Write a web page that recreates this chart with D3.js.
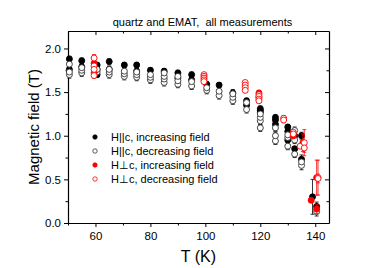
<!DOCTYPE html>
<html>
<head>
<meta charset="utf-8">
<script src="https://cdn.jsdelivr.net/npm/d3@7"></script>
<style>
  body { margin: 0; background: #fff; }
  text { font-family: "Liberation Sans", Arial, sans-serif; fill: #000; }
</style>
</head>
<body>
<div id="chart"></div>
<script>
/* quartz and EMAT: critical field vs temperature */

// H||c, increasing field (filled black)
const parIncT = [50.5,50.5,55,55,60.6,60.6,60.6,65,65,70.5,75,75,80,85,90,90,95,95,100.5,105,110,115,115,120,120,120,125.5,125.5,125.5,130,130,130,132.5,132.5,135,135,139,140.5];
const parIncB = [1.88,1.76,1.86,1.79,1.81,1.76,1.70,1.85,1.76,1.81,1.81,1.74,1.75,1.74,1.72,1.66,1.70,1.64,1.59,1.58,1.49,1.40,1.35,1.31,1.29,1.27,1.21,1.18,1.13,1.10,1.05,0.95,1.00,0.85,1.00,0.73,0.30,0.19];
const parIncE = [0.03,0.03,0.03,0.03,0.03,0.03,0.03,0.03,0.03,0.03,0.03,0.03,0.03,0.03,0.03,0.03,0.03,0.03,0.03,0.03,0.04,0.03,0.03,0.03,0.03,0.03,0.03,0.03,0.03,0.03,0.03,0.03,0.03,0.03,0.04,0.05,0.20,0.05];

// H||c, decreasing field (open black)
const parDecT = [50.5,50.5,50.5,55,55,55,60.6,60.6,65,65,65,70.5,70.5,70.5,75,75,75,80,80,80,85,85,85,85,90,90,90,95,95,100.5,100.5,105,105,110,110,110,115,115,120,120,120,120,125.5,125.5,125.5,130,130,130,132.5,132.5,132.5,135,135,140.5];
const parDecB = [1.70,1.73,1.82,1.72,1.75,1.78,1.73,1.76,1.70,1.73,1.76,1.68,1.71,1.74,1.67,1.70,1.73,1.64,1.67,1.70,1.61,1.65,1.68,1.72,1.59,1.63,1.68,1.57,1.62,1.52,1.55,1.46,1.51,1.40,1.44,1.48,1.30,1.38,1.09,1.17,1.21,1.25,0.94,1.00,1.09,0.88,0.98,1.01,0.79,0.95,1.06,0.66,0.70,0.13];
const parDecE = [0.04,0.04,0.04,0.04,0.04,0.04,0.04,0.04,0.04,0.04,0.04,0.04,0.04,0.04,0.04,0.04,0.04,0.04,0.04,0.04,0.04,0.04,0.04,0.04,0.04,0.04,0.04,0.04,0.04,0.04,0.04,0.04,0.04,0.04,0.04,0.04,0.04,0.04,0.04,0.04,0.04,0.04,0.04,0.04,0.04,0.04,0.04,0.04,0.04,0.04,0.04,0.05,0.05,0.05];

// H perp c, increasing field (filled red)
const perIncT = [59.5,59.5,119.5,119.5,132,135.5,138.5,140.5,140.5];
const perIncB = [1.83,1.72,1.49,1.44,1.00,0.92,0.26,0.52,0.16];
const perIncE = [0.03,0.03,0.03,0.03,0.03,0.10,0.02,0.20,0.05];

// H perp c, decreasing field (open red)
const perDecT = [59.5,59.5,59.5,59.5,99.5,99.5,99.5,99.5,99.5,114.5,114.5,114.5,114.5,119.5,119.5,119.5,119.5,128.5,128.5,132,132,134.5,136,136,141,141];
const perDecB = [1.89,1.80,1.76,1.69,1.70,1.68,1.66,1.64,1.62,1.61,1.58,1.55,1.52,1.47,1.45,1.42,1.40,1.20,1.18,1.04,1.02,0.88,0.92,0.86,0.52,0.51];
const perDecE = [0.04,0.03,0.03,0.03,0.02,0.02,0.02,0.02,0.02,0.02,0.02,0.02,0.02,0.02,0.02,0.02,0.02,0.03,0.03,0.02,0.02,0.02,0.15,0.05,0.20,0.05];

const xTicks = [60, 80, 100, 120, 140];
const yTicks = [0.0, 0.5, 1.0, 1.5, 2.0];
const legendLabels = ["H||c, increasing field", "H||c, decreasing field", "H\u22A5c, increasing field", "H\u22A5c, decreasing field"];

const height = 268,
    width = 382,
    margin = ({ top: 31, right: 53, bottom: 45, left: 68 });

const svg = d3.select("#chart")
    .append("svg")
    .attr("width", width)
    .attr("height", height);

let x = d3.scaleLinear()
    .domain([50, 145])
    .range([margin.left, width - margin.right]);

let y = d3.scaleLinear()
    .domain([0, 2.2])
    .range([height - margin.bottom, margin.top]);

/* series table built from the arrays */
const series = [
  { T: parIncT, B: parIncB, E: parIncE, fill: "#000", stroke: "#000", err: "#000" },
  { T: parDecT, B: parDecB, E: parDecE, fill: "#fff", stroke: "#333", err: "#000" },
  { T: perIncT, B: perIncB, E: perIncE, fill: "#f00", stroke: "#f00", err: "#f00" },
  { T: perDecT, B: perDecB, E: perDecE, fill: "#fff", stroke: "#f00", err: "#f00" }
];

/* axes: bottom/left outward, top/right mirrored inward */
const minorX = d3.range(50, 146, 10).filter(d => d % 20 !== 0);
const minorY = d3.range(0, 2.21, 0.25).filter(d => Math.abs(d * 2 - Math.round(d * 2)) > 0.01);

svg.append("g").attr("transform", `translate(0,${height - margin.bottom})`)
  .call(d3.axisBottom(x).tickValues(xTicks).tickSize(4).tickSizeOuter(0).tickFormat(d3.format("d")))
  .call(g => g.select(".domain").attr("stroke-width", 1.2))
  .call(g => g.selectAll(".tick text").style("font-size", "11.5px").attr("dy", "0.9em"));
svg.append("g").attr("transform", `translate(0,${height - margin.bottom})`)
  .call(d3.axisBottom(x).tickValues(minorX).tickSize(2.5).tickFormat(""))
  .call(g => g.select(".domain").remove());

svg.append("g").attr("transform", `translate(${margin.left},0)`)
  .call(d3.axisLeft(y).tickValues(yTicks).tickSize(4).tickSizeOuter(0).tickFormat(d3.format(".1f")))
  .call(g => g.select(".domain").attr("stroke-width", 1.2))
  .call(g => g.selectAll(".tick text").style("font-size", "11.5px"));
svg.append("g").attr("transform", `translate(${margin.left},0)`)
  .call(d3.axisLeft(y).tickValues(minorY).tickSize(2.5).tickFormat(""))
  .call(g => g.select(".domain").remove());

// top and right mirror axes, ticks inward
svg.append("g").attr("transform", `translate(0,${margin.top})`)
  .call(d3.axisTop(x).tickValues(xTicks).tickSize(-4).tickSizeOuter(0).tickFormat(""))
  .call(g => g.select(".domain").attr("stroke-width", 1.2));
svg.append("g").attr("transform", `translate(0,${margin.top})`)
  .call(d3.axisTop(x).tickValues(minorX).tickSize(-2.5).tickFormat(""))
  .call(g => g.select(".domain").remove());
svg.append("g").attr("transform", `translate(${width - margin.right},0)`)
  .call(d3.axisRight(y).tickValues(yTicks).tickSize(-4).tickSizeOuter(0).tickFormat(""))
  .call(g => g.select(".domain").attr("stroke-width", 1.2));
svg.append("g").attr("transform", `translate(${width - margin.right},0)`)
  .call(d3.axisRight(y).tickValues(minorY).tickSize(-2.5).tickFormat(""))
  .call(g => g.select(".domain").remove());

/* labels */
svg.append("text")
  .attr("x", (margin.left + width - margin.right) / 2 + 4)
  .attr("y", 26)
  .attr("text-anchor", "middle")
  .style("font-size", "11px")
  .style("white-space", "pre")
  .text("quartz and EMAT,  all measurements");

svg.append("text")
  .attr("x", (margin.left + width - margin.right) / 2)
  .attr("y", 262)
  .attr("text-anchor", "middle")
  .style("font-size", "16px")
  .text("T (K)");

svg.append("text")
  .attr("transform", `translate(39,${(margin.top + height - margin.bottom) / 2}) rotate(-90)`)
  .attr("text-anchor", "middle")
  .style("font-size", "15px")
  .text("Magnetic field (T)");

/* error bars and markers */
for (let s of series) {
  const pts = s.T.map((t, i) => ({ t: t, b: s.B[i], e: s.E[i] }));
  const g = svg.append("g");
  const eb = g.selectAll(".eb").data(pts).join("g").attr("stroke", s.err).attr("stroke-width", 0.8);
  eb.append("line")
    .attr("x1", d => x(d.t)).attr("x2", d => x(d.t))
    .attr("y1", d => y(d.b - d.e)).attr("y2", d => y(d.b + d.e));
  eb.append("line")
    .attr("x1", d => x(d.t) - 2).attr("x2", d => x(d.t) + 2)
    .attr("y1", d => y(d.b - d.e)).attr("y2", d => y(d.b - d.e));
  eb.append("line")
    .attr("x1", d => x(d.t) - 2).attr("x2", d => x(d.t) + 2)
    .attr("y1", d => y(d.b + d.e)).attr("y2", d => y(d.b + d.e));
  g.selectAll("circle").data(pts).join("circle")
    .attr("cx", d => x(d.t))
    .attr("cy", d => y(d.b))
    .attr("r", 3)
    .attr("fill", s.fill)
    .attr("stroke", s.stroke)
    .attr("stroke-width", 0.9);
}

/* legend */
const legend = svg.append("g");
legendLabels.forEach((lab, i) => {
  const s = series[i];
  const ly = 137 + i * 14;
  legend.append("circle")
    .attr("cx", 95).attr("cy", ly).attr("r", 2.2)
    .attr("fill", s.fill).attr("stroke", s.stroke).attr("stroke-width", 0.8);
  legend.append("text")
    .attr("x", 111).attr("y", ly + 4)
    .style("font-size", "11px")
    .text(lab);
});
</script>
</body>
</html>
